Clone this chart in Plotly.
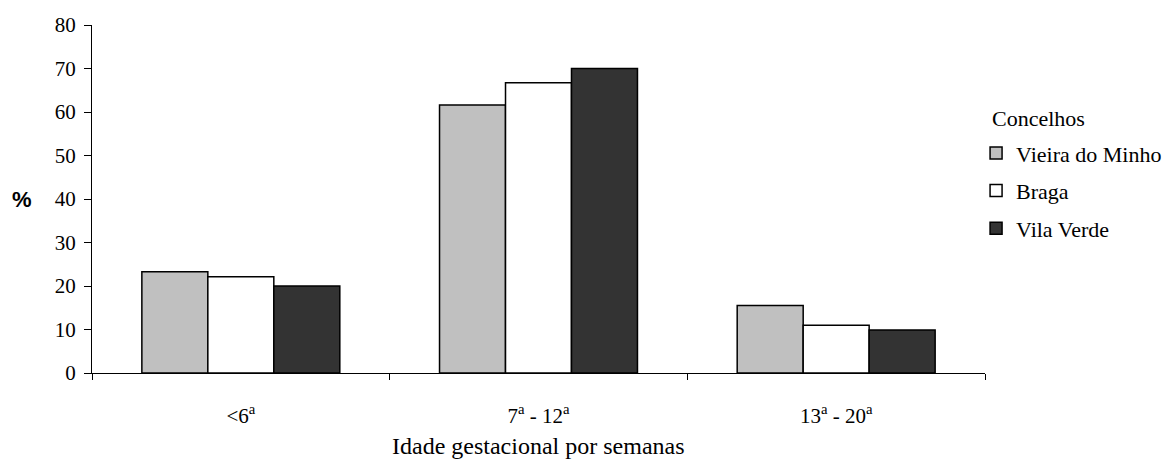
import plotly.graph_objects as go

categories = ["&lt;6<sup>a</sup>", "7<sup>a</sup> - 12<sup>a</sup>", "13<sup>a</sup> - 20<sup>a</sup>"]
series_names = ["Vieira do Minho", "Braga", "Vila Verde"]
vieira = [23.3, 61.6, 15.5]
braga = [22.1, 66.7, 11.0]
vila_verde = [20.0, 70.0, 9.9]
colors = ["#C0C0C0", "#FFFFFF", "#333333"]
y_ticks = [0, 10, 20, 30, 40, 50, 60, 70, 80]

SERIF = "Liberation Serif"

fig = go.Figure()
for i, (name, vals, col) in enumerate(zip(series_names, [vieira, braga, vila_verde], colors)):
    fig.add_trace(go.Bar(
        x=categories, y=vals, name=name, legendgroup=f"g{i}",
        marker=dict(color=col, line=dict(color="black", width=1.5)),
    ))

fig.update_layout(
    width=1164, height=462,
    margin=dict(l=92, r=179, t=25, b=89, autoexpand=False),
    paper_bgcolor="white", plot_bgcolor="white",
    barmode="group", bargap=0.335, bargroupgap=0,
    font=dict(family=SERIF, size=21, color="black"),
    showlegend=True,
    legend=dict(
        font=dict(family=SERIF, size=22),
        x=0.99, xanchor="left", y=0.692, yanchor="top",
        traceorder="grouped", tracegroupgap=6,
        bgcolor="rgba(0,0,0,0)", itemclick=False,
    ),
    xaxis=dict(
        showline=True, linecolor="black", linewidth=1,
        ticks="outside", tickson="boundaries", ticklen=6, tickcolor="black",
        ticklabelstandoff=24, showgrid=False, zeroline=False,
        tickfont=dict(family=SERIF, size=21),
    ),
    yaxis=dict(
        range=[0, 80], tickvals=y_ticks, showline=True, linecolor="black",
        linewidth=1, ticks="outside", ticklen=7, tickcolor="black",
        ticklabelstandoff=4,
        showgrid=False, zeroline=False, tickfont=dict(family=SERIF, size=21),
    ),
    annotations=[
        dict(text="<b>%</b>", xref="paper", yref="paper", x=-0.078, y=0.5,
             xanchor="center", yanchor="middle", showarrow=False,
             font=dict(family="Liberation Sans", size=22, color="black")),
        dict(text="Idade gestacional por semanas", xref="paper", yref="paper",
             x=0.5, y=(373 - 461) / 348, xanchor="center", yanchor="bottom", showarrow=False,
             font=dict(family=SERIF, size=24, color="black")),
        dict(text="Concelhos", xref="paper", yref="paper",
             x=(990 - 92) / 893, y=(373 - 118) / 348, xanchor="left", yanchor="middle",
             showarrow=False, font=dict(family=SERIF, size=22, color="black")),
    ],
)

fig.write_html("out.html")
